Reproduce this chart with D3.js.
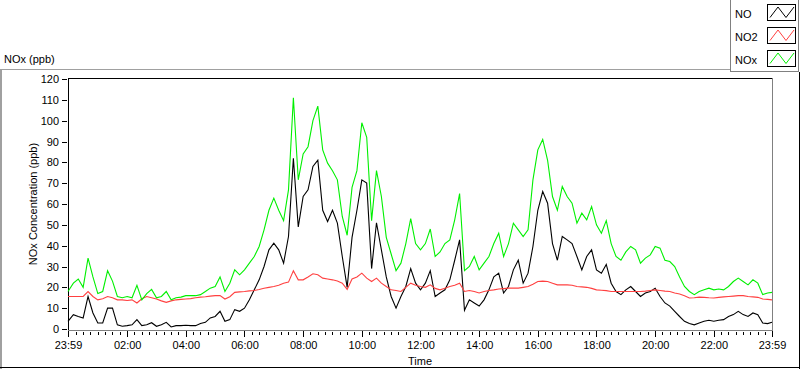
<!DOCTYPE html>
<html>
<head>
<meta charset="utf-8">
<script src="https://cdn.jsdelivr.net/npm/d3@7/dist/d3.min.js"></script>
<style>
  html, body { margin: 0; padding: 0; background: #fff; }
  svg { display: block; }
  text { font-family: "Liberation Sans", Arial, sans-serif; font-size: 11px; fill: #000; }
</style>
</head>
<body>
<svg id="chart" width="800" height="369"></svg>
<script>
// ---- DATA (minutes since midnight; -1 = 23:59 of previous day) ----
const times = [-1].concat(d3.range(10, 1440, 10), [1439]);

const seriesNames = ["NO", "NO2", "NOx"];

const noValues = [
  3.7, 6.9, 6, 5.3, 15.6, 7.7,
  2.9, 2.9, 10, 10, 2, 1.3,
  1.6, 2, 4.5, 1.6, 2, 3,
  1.3, 2, 3.2, 1, 1.6, 1.6,
  1.8, 1.6, 1.6, 2.6, 3.2, 5.3,
  6, 8.5, 3.7, 4.5, 9.3, 8.5,
  10, 14, 18.8, 23.6, 30, 38,
  41.2, 38, 31.6, 44.4, 82, 49,
  63.6, 66.8, 78, 81, 57, 51.6,
  57, 50.8, 34.8, 20, 44, 57,
  71.6, 70, 29, 51, 38, 25,
  15.6, 10, 15.6, 20.4, 29, 22,
  18.8, 22, 28, 15.6, 17.3, 18.8,
  23.6, 33, 42.8, 9, 14, 12.5,
  11, 14, 18.8, 25, 26.8, 17.3,
  20.4, 28.4, 33, 22, 26.8, 39.6,
  57, 66, 60.4, 41, 33, 44.4,
  42.8, 41, 34.8, 28.4, 34.8, 38,
  28.4, 26.8, 31, 22, 18, 16.5,
  18.8, 20.4, 18, 15.6, 17.3, 18,
  19.6, 15.6, 12.5, 11, 8.5, 6,
  3.7, 2.6, 2, 2.9, 3.7, 4.2,
  3.7, 4.2, 4.5, 6, 6.9, 8.5,
  6.9, 6, 7.7, 6.9, 2.9, 2.6,
  3.2
];

const no2Values = [
  15.6, 15.6, 15.6, 15.6, 18, 15.6,
  14, 14.5, 15.6, 15, 14, 14,
  13.7, 14, 12.5, 14.5, 15.6, 15,
  14.4, 13.5, 12.8, 13.5, 14, 14.2,
  14.4, 14.6, 15, 15.3, 15.5, 15.8,
  16, 16, 14.4, 15.5, 17.6, 17.8,
  18, 18.3, 18.5, 19, 19.6, 20,
  20.4, 21, 22, 22.5, 28, 23.6,
  23.6, 25, 26.5, 26, 24.4, 24,
  23.6, 23, 22, 19, 24, 25,
  26.8, 24.4, 22.8, 24.4, 22, 20.4,
  18.8, 18.5, 18, 20, 22, 21,
  20.4, 20, 21.2, 19.5, 18.8, 19.6,
  20.4, 21, 22, 18, 18.5, 18,
  17.3, 18, 18.5, 18.8, 19.2, 19.4,
  19.6, 19.6, 19.6, 20, 20.4, 21.5,
  22.8, 23, 22.8, 22, 21.2, 21.2,
  21.2, 21, 20.4, 20.2, 20, 19.5,
  18.8, 18.6, 18.4, 18, 18, 18,
  18, 18, 18, 18, 18.2, 18.5,
  18.8, 18.5, 18.2, 18, 17.3, 16.8,
  16, 14.9, 15, 15.3, 15.2, 15,
  14.9, 15.2, 15.4, 15.6, 15.8, 16,
  16, 15.6, 15.4, 15.2, 14.4, 14.2,
  14
];

const noxValues = [
  18, 22, 24, 20, 34, 25,
  17, 18, 28, 23, 15.6, 15,
  15.6, 15, 21, 14, 17, 19,
  15, 15.6, 18, 14, 15, 15.3,
  16, 16, 16, 16.5, 18, 19.6,
  20.4, 25, 18, 22, 28.4, 26,
  28.4, 31.6, 34.8, 39.6, 47.6, 57,
  62.8, 57, 52, 66.8, 111, 71.6,
  84, 87.5, 100, 107, 86, 79.6,
  76, 71.6, 54, 45, 68, 76,
  99, 92, 52, 76, 63.6, 44,
  36, 28, 31.6, 41, 53, 41,
  38, 41, 48, 34.8, 37, 41,
  42.8, 52.4, 65, 28, 30, 34.8,
  28.4, 31.6, 34.8, 41, 46, 34.8,
  41, 50.8, 47.6, 44.4, 47.6, 71.6,
  86, 91, 81, 63.6, 57, 68.4,
  63.6, 60.4, 50.8, 55.6, 52.4, 58.8,
  50, 46, 52, 41, 34.8, 33,
  37, 39.6, 38, 31.6, 34, 35.6,
  39.6, 38.8, 33, 32.4, 30, 25,
  20.4, 18, 16.5, 18, 18.8, 19.6,
  18.8, 19.2, 18.8, 20.4, 22.8, 24.4,
  22.8, 21.2, 23.6, 22, 16.5, 17.3,
  17.6
];

const yTicks = [0, 10, 20, 30, 40, 50, 60, 70, 80, 90, 100, 110, 120];
const xTickValues = [-1, 120, 240, 360, 480, 600, 720, 840, 960, 1080, 1200, 1320, 1439];
const xTickLabels = ["23:59", "02:00", "04:00", "06:00", "08:00", "10:00", "12:00",
                     "14:00", "16:00", "18:00", "20:00", "22:00", "23:59"];
const xMinorTicks = d3.range(15, 1440, 15).filter(m => m % 120 !== 0);

// ---- LAYOUT ----
const svg = d3.select("#chart");
const L = 68, R = 772, T = 79, B = 329;
const x = d3.scaleLinear().domain([-1, 1439]).range([L, R]);
const y = d3.scaleLinear().domain([0, 120]).range([B, T]);

// outer frame
svg.append("line").attr("x1", 0).attr("x2", 730).attr("y1", 69.5).attr("y2", 69.5).attr("stroke", "#a0a0a0");
svg.append("rect").attr("x", 0).attr("y", 69).attr("width", 2).attr("height", 300).attr("fill", "#a0a0a0");
svg.append("line").attr("x1", 0).attr("x2", 800).attr("y1", 367.5).attr("y2", 367.5).attr("stroke", "#000");
svg.append("line").attr("x1", 799.5).attr("x2", 799.5).attr("y1", 72).attr("y2", 369).attr("stroke", "#000");

// title
svg.append("text").attr("x", 4).attr("y", 63).attr("font-size", 11.5).text("NOx (ppb)");

// plot frame
svg.append("line").attr("x1", L).attr("x2", R + 1).attr("y1", 78.5).attr("y2", 78.5).attr("stroke", "#000");
svg.append("line").attr("x1", L + 0.5).attr("x2", L + 0.5).attr("y1", 78).attr("y2", 331).attr("stroke", "#000");
svg.append("line").attr("x1", R + 0.5).attr("x2", R + 0.5).attr("y1", 78).attr("y2", 331).attr("stroke", "#808080");
svg.append("line").attr("x1", L).attr("x2", R + 1).attr("y1", 330.5).attr("y2", 330.5).attr("stroke", "#808080");

// y axis
const yAxis = svg.append("g").attr("transform", `translate(${L - 1},0)`)
  .call(d3.axisLeft(y).tickValues(yTicks).tickSize(5).tickPadding(3));
yAxis.select(".domain").remove();
yAxis.selectAll("line").attr("stroke", "#000").attr("shape-rendering", "crispEdges");
yAxis.selectAll("text").attr("font-family", "Liberation Sans, Arial, sans-serif").attr("font-size", 11).attr("fill", "#000");

// x axis (major)
const xAxis = svg.append("g").attr("transform", `translate(0,331)`)
  .call(d3.axisBottom(x).tickValues(xTickValues).tickFormat((d, i) => xTickLabels[i]).tickSize(6).tickPadding(4));
xAxis.select(".domain").remove();
xAxis.selectAll("line").attr("stroke", "#000").attr("shape-rendering", "crispEdges");
xAxis.selectAll("text").attr("font-family", "Liberation Sans, Arial, sans-serif").attr("font-size", 11).attr("fill", "#000");

// x axis (minor)
const xMinor = svg.append("g").attr("transform", `translate(0,332)`)
  .call(d3.axisBottom(x).tickValues(xMinorTicks).tickFormat("").tickSize(3));
xMinor.select(".domain").remove();
xMinor.selectAll("line").attr("stroke", "#000").attr("shape-rendering", "crispEdges");

// axis titles
svg.append("text").attr("x", (L + R) / 2).attr("y", 365).attr("text-anchor", "middle").attr("font-size", 11.5).text("Time");
svg.append("text").attr("transform", `translate(37,${(T + B) / 2}) rotate(-90)`)
  .attr("text-anchor", "middle").attr("font-size", 12.3).attr("fill", "#10103a").text("NOx Concentration (ppb)");

// data lines
const series = [
  { name: seriesNames[0], values: noValues, color: "#000000" },
  { name: seriesNames[1], values: no2Values, color: "#ff4040" },
  { name: seriesNames[2], values: noxValues, color: "#00f000" }
];
const line = d3.line().x((d, i) => x(times[i])).y(d => y(d));
const plotG = svg.append("g");
series.forEach(s => {
  plotG.append("path").datum(s.values)
    .attr("d", line).attr("fill", "none").attr("stroke", s.color).attr("stroke-width", 1.1);
});

// legend
const lg = svg.append("g");
lg.append("rect").attr("x", 730.5).attr("y", -1).attr("width", 68).attr("height", 72.5)
  .attr("fill", "#fff").attr("stroke", "#808080");
series.forEach((s, i) => {
  const yy = i * 23;
  lg.append("text").attr("x", 735).attr("y", 18 + yy).attr("font-size", 11.5).text(s.name);
  lg.append("rect").attr("x", 767.5).attr("y", 4.5 + yy).attr("width", 28).attr("height", 16)
    .attr("fill", "#fff").attr("stroke", "#000");
  const zx = d3.scaleLinear().domain([0, 3]).range([770, 794]);
  const zy = d3.scaleLinear().domain([0, 1]).range([17.5 + yy, 7 + yy]);
  const zig = [0, 1, 0, 1];
  lg.append("path").datum(zig)
    .attr("d", d3.line().x((d, j) => zx(j)).y(d => zy(d)))
    .attr("fill", "none").attr("stroke", s.color).attr("stroke-width", 1);
});
</script>
</body>
</html>
